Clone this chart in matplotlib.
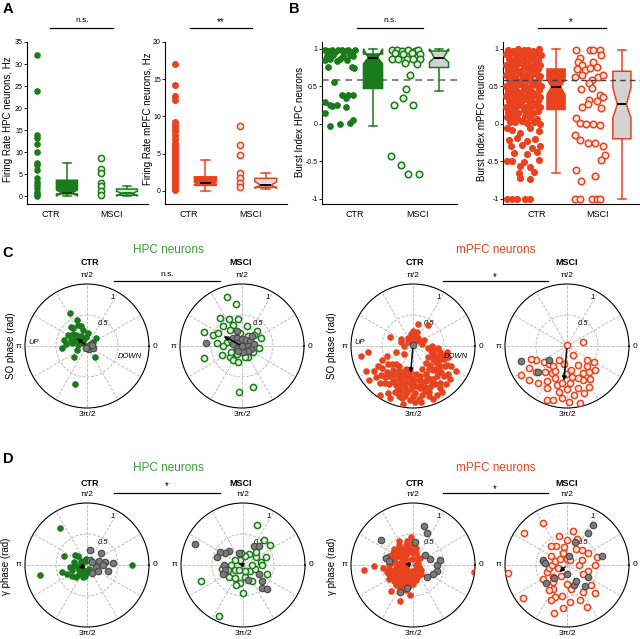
import numpy as np
import matplotlib
matplotlib.use("Agg")
import matplotlib.pyplot as plt
from matplotlib.lines import Line2D

plt.rcParams['font.family'] = ['Liberation Sans', 'DejaVu Sans']

GREEN = '#1b7a1b'
GREEN_LIGHT = '#e3f3dc'
GREEN_TXT = '#3c9a3c'
RED = '#e8431e'
RED_LIGHT = '#fde6de'
GRAY = '#7b7b7b'
GRAY_EDGE = '#474747'

# ---------------- panel A: firing rate (Hz)
hpc_fr_ctr = [32, 23.9, 13.9, 13.3, 11.8, 10.1, 7.5, 7.0, 6.0, 4.0, 3.3, 2.5, 1.9, 0.9, 0.4, 0.1]
hpc_fr_msci = [8.6, 6.2, 5.3, 2.9, 2.2, 1.1, 0.3]
mpfc_fr_ctr = [17.0, 14.2, 12.7, 12.2, 9.2, 8.8, 8.4, 8.0, 7.5, 7.0, 6.4, 6.1, 5.8, 5.5, 5.2,
               4.9, 4.6, 4.3, 4.0, 3.7, 3.4, 3.1, 2.8, 2.5, 2.2, 1.9, 1.6, 1.3, 1.0, 0.7, 0.4, 0.1]
mpfc_fr_msci = [8.7, 6.2, 4.8, 2.4, 1.7, 1.1, 0.5]
# box stats: q1, median, q3, whisker low, whisker high, notch low, notch high
hpc_fr_box_ctr = [0.5, 0.7, 3.6, 0.1, 7.6, 0.0, 1.4]
hpc_fr_box_msci = [0.2, 0.6, 1.6, 0.0, 2.3, 0.0, 1.1]
mpfc_fr_box_ctr = [0.75, 1.05, 1.9, 0.0, 4.2, 0.9, 1.2]
mpfc_fr_box_msci = [0.5, 0.8, 1.7, 0.3, 2.4, 0.35, 1.25]

# ---------------- panel B: burst index (jitter offset, value)
hpc_bi_ctr_x = [-0.45, -0.35, -0.25, -0.15, -0.05, 0.05, 0.15, 0.25, 0.35, 0.45,
                -0.40, -0.20, 0.10, 0.30, 0.40, -0.45, -0.30, -0.10, 0.00, 0.20,
                -0.35, 0.35, 0.43, -0.18, 0.05, 0.25, 0.38, 0.18, -0.45,
                -0.30, -0.23, -0.08, 0.18, -0.45, 0.38, 0.30, 0.00, -0.30]
hpc_bi_ctr = [0.99, 0.97, 0.99, 0.96, 0.98, 0.99, 0.97, 0.99, 0.96, 0.98,
              0.91, 0.92, 0.90, 0.92, 0.91, 0.85, 0.86, 0.84, 0.87, 0.85,
              0.76, 0.76, 0.75, 0.56, 0.39, 0.39, 0.38, 0.35, 0.29,
              0.25, 0.24, 0.25, 0.23, 0.14, 0.05, 0.01, 0.0, -0.03]
hpc_bi_msci_x = [-0.43, -0.28, -0.13, 0.07, 0.27, 0.37, -0.33, -0.08, 0.17, 0.42,
                 -0.43, -0.23, 0.02, 0.22, 0.42, -0.03, 0.32, 0.12, 0.0, -0.08,
                 -0.36, 0.22, -0.45, -0.16, 0.05, 0.40]
hpc_bi_msci = [0.98, 0.98, 0.97, 0.98, 0.97, 0.98, 0.94, 0.93, 0.94, 0.93,
               0.87, 0.86, 0.87, 0.86, 0.87, 0.81, 0.80, 0.65, 0.47, 0.35,
               0.25, 0.25, -0.43, -0.55, -0.67, -0.67]
mpfc_bi_ctr_x = [-0.46, -0.31, -0.14, 0.02, 0.16, 0.31, 0.47,
                 -0.53, -0.37, -0.23, -0.07, 0.09, 0.24, 0.39, 0.53,
                 -0.44, -0.29, -0.16, 0.01, 0.14, 0.32, 0.46,
                 -0.51, -0.38, -0.21, -0.09, 0.07, 0.23, 0.37, 0.52,
                 -0.46, -0.28, -0.13, 0.02, 0.17, 0.29, 0.44,
                 -0.52, -0.36, -0.24, -0.06, 0.09, 0.21, 0.39, 0.51,
                 -0.43, -0.31, -0.14, -0.01, 0.16, 0.31, 0.46,
                 -0.53, -0.39, -0.22, -0.08, 0.07, 0.22, 0.38, 0.54,
                 -0.45, -0.29, -0.16, 0.03, 0.15, 0.28, 0.47,
                 -0.51, -0.37, -0.21, -0.07, 0.08, 0.24, 0.36, 0.52,
                 -0.44, -0.32, -0.13, 0.01, 0.17, 0.33, 0.45,
                 -0.52, -0.38, -0.23, -0.06, 0.09, 0.22, 0.39, 0.51,
                 -0.45, -0.29, -0.15, 0.02, 0.14, 0.31, 0.46,
                 -0.49, -0.35, -0.18, 0.05, 0.21, 0.42,
                 -0.41, -0.24, -0.02, 0.12, 0.34, 0.50,
                 -0.48, -0.33, -0.08, 0.22, 0.47,
                 -0.43, -0.18, 0.12, 0.37,
                 -0.38, -0.03, 0.27, 0.52,
                 -0.28, 0.12, 0.42,
                 -0.48, -0.33, 0.02, 0.47,
                 -0.08, 0.22, -0.13, 0.32, -0.08, 0.22,
                 -0.48, -0.33, -0.18, 0.07, 0.22]
mpfc_bi_ctr = [0.99, 0.97, 1.0, 0.98, 0.99, 0.97, 1.0,
               0.93, 0.94, 0.92, 0.95, 0.93, 0.91, 0.94, 0.92,
               0.87, 0.85, 0.88, 0.86, 0.84, 0.87, 0.85,
               0.79, 0.80, 0.78, 0.81, 0.79, 0.77, 0.80, 0.78,
               0.72, 0.73, 0.71, 0.74, 0.72, 0.70, 0.73,
               0.65, 0.66, 0.64, 0.67, 0.65, 0.63, 0.66, 0.64,
               0.58, 0.59, 0.57, 0.60, 0.58, 0.56, 0.59,
               0.51, 0.52, 0.50, 0.53, 0.51, 0.49, 0.52, 0.50,
               0.44, 0.45, 0.43, 0.46, 0.44, 0.42, 0.45,
               0.37, 0.38, 0.36, 0.39, 0.37, 0.35, 0.38, 0.36,
               0.30, 0.31, 0.29, 0.32, 0.30, 0.28, 0.31,
               0.23, 0.24, 0.22, 0.25, 0.23, 0.21, 0.24, 0.22,
               0.16, 0.17, 0.15, 0.18, 0.16, 0.14, 0.17,
               0.09, 0.10, 0.08, 0.11, 0.09, 0.07,
               0.03, 0.02, 0.04, 0.01, 0.03, 0.0,
               -0.05, -0.08, -0.12, -0.06, -0.10,
               -0.21, -0.19, -0.23, -0.20,
               -0.30, -0.28, -0.32, -0.30,
               -0.39, -0.40, -0.37,
               -0.50, -0.49, -0.51, -0.48,
               -0.57, -0.58, -0.66, -0.64, -0.72, -0.74,
               -1, -1, -1, -1, -1]
mpfc_bi_msci_x = [-0.39, 0.03, 0.13, 0.33, 0.38, -0.27, -0.32, -0.22, 0.13, -0.37,
                  -0.12, 0.03, 0.23, -0.42, -0.22, 0.08, 0.28, 0.43, 0.0, -0.24,
                  0.08, 0.33, 0.43, 0.01, 0.23, 0.38, -0.22, -0.02, -0.39, -0.27,
                  -0.10, 0.13, 0.33, -0.42, -0.27, -0.02, 0.18, 0.43, 0.48, 0.38,
                  -0.40, -0.25, 0.18, -0.42, -0.27, 0.08, 0.23, 0.33]
mpfc_bi_msci = [0.99, 0.99, 0.99, 0.98, 0.92, 0.88, 0.82, 0.78, 0.83, 0.73,
                0.72, 0.74, 0.76, 0.62, 0.65, 0.58, 0.62, 0.65, 0.54, 0.46,
                0.48, 0.39, 0.36, 0.32, 0.30, 0.21, 0.23, 0.27, 0.08, 0.01,
                0.0, 0.0, -0.01, -0.15, -0.21, -0.26, -0.26, -0.30, -0.41, -0.48,
                -0.62, -0.77, -0.70, -1.0, -1.0, -1.0, -1.0, -1.0]
hpc_bi_box_ctr = [0.47, 0.88, 0.93, -0.03, 1.0, 0.80, 1.0]
hpc_bi_box_msci = [0.75, 0.88, 0.97, 0.44, 1.0, 0.82, 1.0]
mpfc_bi_box_ctr = [0.19, 0.49, 0.73, -0.66, 1.0, 0.39, 0.59]
mpfc_bi_box_msci = [-0.20, 0.26, 0.70, -1.0, 0.99, 0.08, 0.48]
burst_threshold = 0.59

# ---------------- panels C and D: phase preference (theta in degrees, vector length)
c_hpc_ctr = [(118, 0.60), (112, 0.37), (106, 0.33), (128, 0.37), (104, 0.27), (85, 0.21), (150, 0.36),
             (134, 0.25), (121, 0.18), (40, 0.20), (165, 0.38), (159, 0.28), (174, 0.34), (185, 0.40),
             (174, 0.15), (146, 0.08), (221, 0.27), (308, 0.22), (252, 0.64), (140, 0.30), (120, 0.12),
             (95, 0.15), (155, 0.22), (130, 0.40), (30, 0.12), (200, 0.18), (170, 0.25), (110, 0.45)]
c_hpc_ctr_ns = [(20, 0.05), (300, 0.06), (340, 0.10), (250, 0.04), (10, 0.08)]
c_hpc_msci = [(107, 0.82), (98, 0.68), (128, 0.58), (116, 0.49), (99, 0.44), (134, 0.45), (113, 0.36),
              (75, 0.33), (159, 0.65), (159, 0.50), (151, 0.44), (126, 0.32), (44, 0.34), (23, 0.33),
              (43, 0.26), (174, 0.41), (165, 0.25), (150, 0.20), (100, 0.22), (352, 0.28), (330, 0.20),
              (300, 0.20), (198, 0.64), (204, 0.36), (222, 0.26), (239, 0.27), (287, 0.18), (255, 0.27),
              (266, 0.75), (285, 0.69), (350, 0.12), (60, 0.18), (180, 0.30), (210, 0.20), (240, 0.15)]
c_hpc_msci_ns = [(176, 0.59), (140, 0.20), (120, 0.15), (150, 0.10), (90, 0.12), (60, 0.12), (30, 0.15),
                 (0, 0.10), (340, 0.15), (320, 0.12), (280, 0.10), (200, 0.08), (170, 0.15), (45, 0.22),
                 (10, 0.20), (110, 0.25), (0, 0.0), (230, 0.10)]
c_mpfc_ctr = [(90, 0.05), (70, 0.10), (110, 0.10), (95, 0.15), (80, 0.18), (100, 0.20), (60, 0.15),
              (120, 0.15), (140, 0.10), (40, 0.12), (90, 0.25), (74, 0.24), (78, 0.37), (55, 0.42),
              (149, 0.22), (158, 0.40), (191, 0.85), (187, 0.73), (30, 0.20), (10, 0.15), (0, 0.30),
              (350, 0.35), (160, 0.20), (200, 0.30), (220, 0.20), (180, 0.15),
              (205, 0.55), (210, 0.65), (212, 0.75), (200, 0.45), (208, 0.85), (215, 0.50),
              (220, 0.45), (225, 0.60), (222, 0.70), (228, 0.80), (218, 0.90), (230, 0.50), (226, 0.40),
              (235, 0.40), (238, 0.55), (240, 0.65), (233, 0.75), (242, 0.85), (236, 0.95), (244, 0.50),
              (232, 0.62), (248, 0.45), (250, 0.55), (252, 0.65), (255, 0.75), (258, 0.85), (246, 0.92),
              (253, 0.38), (257, 0.60), (249, 0.80), (260, 0.95), (262, 0.50), (265, 0.60), (268, 0.70),
              (270, 0.80), (272, 0.90), (264, 0.42), (274, 0.65), (267, 0.88), (263, 0.75), (271, 0.55),
              (277, 0.45), (280, 0.55), (282, 0.65), (285, 0.75), (288, 0.85), (278, 0.92), (290, 0.60),
              (284, 0.50), (281, 0.80), (292, 0.40), (295, 0.50), (298, 0.60), (300, 0.70), (303, 0.80),
              (296, 0.88), (305, 0.45), (293, 0.72), (308, 0.35), (310, 0.50), (313, 0.60), (316, 0.70),
              (318, 0.80), (312, 0.42), (320, 0.55), (322, 0.30), (325, 0.45), (328, 0.60), (332, 0.70),
              (335, 0.50), (338, 0.35), (342, 0.60), (345, 0.30), (330, 0.80), (348, 0.45), (350, 0.55),
              (355, 0.40), (352, 0.25),
              (215, 0.62), (220, 0.78), (228, 0.68), (233, 0.58), (238, 0.72), (243, 0.66), (247, 0.58),
              (251, 0.72), (254, 0.84), (256, 0.50), (259, 0.68), (261, 0.82), (266, 0.52), (269, 0.62),
              (273, 0.76), (276, 0.86), (279, 0.68), (283, 0.58), (286, 0.68), (289, 0.78), (291, 0.92),
              (294, 0.56), (297, 0.68), (301, 0.62), (302, 0.88), (306, 0.74), (309, 0.62), (311, 0.82),
              (314, 0.52), (317, 0.62), (321, 0.72), (324, 0.52), (327, 0.38), (331, 0.62), (334, 0.42),
              (337, 0.55), (340, 0.45), (344, 0.52), (239, 0.45), (246, 0.68)]
c_mpfc_ctr_ns = [(90, 0.02)]
c_mpfc_msci = [(240, 0.50), (230, 0.55), (220, 0.65), (210, 0.70), (205, 0.55), (215, 0.45), (225, 0.40),
               (235, 0.40), (245, 0.45), (250, 0.55), (255, 0.65), (260, 0.75), (265, 0.85), (270, 0.70),
               (275, 0.60), (280, 0.50), (285, 0.70), (290, 0.80), (295, 0.60), (300, 0.50), (305, 0.65),
               (310, 0.55), (315, 0.45), (320, 0.60), (325, 0.40), (330, 0.50), (245, 0.75), (250, 0.92),
               (255, 0.90), (262, 0.60), (268, 0.45), (272, 0.90), (278, 0.80), (283, 0.95), (288, 0.55),
               (298, 0.75), (240, 0.65), (232, 0.75), (222, 0.82), (280, 0.40), (300, 0.35), (260, 0.30),
               (15, 0.27), (304, 0.17), (241, 0.26), (90, 0.02), (200, 0.62), (212, 0.88)]
c_mpfc_msci_ns = [(198, 0.78), (218, 0.37), (222, 0.62)]
d_hpc_ctr = [(126, 0.73), (0, 0.73), (192, 0.78), (195, 0.42), (205, 0.36), (227, 0.26), (159, 0.40),
             (166, 0.22), (134, 0.21), (140, 0.25), (180, 0.20), (190, 0.15), (200, 0.25), (210, 0.15),
             (220, 0.10), (240, 0.15), (250, 0.20), (260, 0.18), (270, 0.12), (280, 0.10), (300, 0.08),
             (170, 0.10), (150, 0.12), (120, 0.08), (230, 0.20), (215, 0.30), (255, 0.10), (185, 0.28),
             (100, 0.10)]
d_hpc_ctr_ns = [(79, 0.24), (20, 0.20), (10, 0.30), (5, 0.42), (345, 0.35), (350, 0.15), (60, 0.10),
                (30, 0.10), (330, 0.20), (300, 0.15), (40, 0.30), (0, 0.25)]
d_hpc_msci = [(71, 0.69), (50, 0.52), (36, 0.54), (201, 0.72), (245, 0.91), (339, 0.42), (30, 0.25),
              (45, 0.30), (60, 0.20), (80, 0.15), (100, 0.20), (120, 0.10), (150, 0.15), (180, 0.20),
              (200, 0.25), (220, 0.30), (240, 0.25), (260, 0.30), (280, 0.20), (300, 0.30), (320, 0.15),
              (340, 0.20), (0, 0.15), (10, 0.30), (20, 0.40), (250, 0.35), (270, 0.45), (290, 0.10),
              (210, 0.15), (190, 0.35), (230, 0.10), (0, 0.30)]
d_hpc_msci_ns = [(156, 0.85), (164, 0.44), (135, 0.33), (145, 0.35), (180, 0.30), (195, 0.30), (205, 0.35),
                 (110, 0.20), (60, 0.35), (50, 0.40), (320, 0.40), (310, 0.48), (315, 0.55), (330, 0.30),
                 (290, 0.25), (150, 0.42)]
d_mpfc_ctr = [(90, 0.35), (100, 0.30), (110, 0.35), (120, 0.30), (130, 0.35), (140, 0.40), (150, 0.38),
              (160, 0.42), (170, 0.40), (180, 0.38), (190, 0.40), (200, 0.42), (210, 0.38), (220, 0.40),
              (230, 0.35), (240, 0.38), (250, 0.32), (260, 0.35), (270, 0.30), (280, 0.25), (90, 0.20),
              (110, 0.22), (130, 0.25), (150, 0.28), (170, 0.30), (190, 0.28), (210, 0.25), (230, 0.22),
              (250, 0.20), (270, 0.18), (100, 0.10), (140, 0.15), (180, 0.18), (220, 0.12), (260, 0.10),
              (300, 0.10), (340, 0.10), (20, 0.08), (60, 0.12), (80, 0.28), (120, 0.45), (165, 0.32),
              (175, 0.22), (195, 0.12), (205, 0.32), (215, 0.18), (235, 0.28), (245, 0.15), (265, 0.25),
              (285, 0.15), (310, 0.20), (330, 0.15), (45, 0.15), (75, 0.20), (95, 0.45), (155, 0.20),
              (185, 0.48), (225, 0.30), (255, 0.42), (0, 0.05), (186, 0.79), (181, 0.63), (353, 0.99),
              (241, 0.43), (265, 0.49), (250, 0.61), (230, 0.55),
              (100, 0.25), (115, 0.28), (125, 0.20), (135, 0.30), (145, 0.22), (155, 0.33), (160, 0.12),
              (170, 0.18), (175, 0.35), (185, 0.22), (195, 0.35), (200, 0.18), (205, 0.22), (215, 0.35),
              (220, 0.25), (225, 0.15), (235, 0.20), (240, 0.30), (255, 0.25), (260, 0.30), (275, 0.22),
              (290, 0.20), (105, 0.40), (165, 0.38), (145, 0.35), (125, 0.40), (195, 0.44), (210, 0.45),
              (230, 0.42), (90, 0.30)]
d_mpfc_ctr_ns = [(74, 0.65), (66, 0.57), (142, 0.66), (84, 0.38), (165, 0.45), (170, 0.40), (40, 0.25),
                 (20, 0.30), (0, 0.38), (345, 0.40), (335, 0.35), (245, 0.48), (255, 0.38), (320, 0.30),
                 (10, 0.45)]
d_mpfc_msci = [(143, 0.87), (188, 0.96), (217, 0.88), (120, 0.79), (105, 0.48), (90, 0.40), (80, 0.55),
               (70, 0.45), (100, 0.30), (110, 0.20), (120, 0.35), (60, 0.30), (45, 0.35), (30, 0.40),
               (15, 0.50), (0, 0.45), (345, 0.35), (330, 0.30), (300, 0.50), (290, 0.60), (280, 0.40),
               (270, 0.30), (260, 0.50), (250, 0.55), (240, 0.45), (230, 0.35), (220, 0.30), (210, 0.45),
               (200, 0.35), (190, 0.30), (180, 0.25), (170, 0.40), (160, 0.20), (150, 0.30), (140, 0.15),
               (130, 0.40), (90, 0.10), (0, 0.20), (315, 0.65), (295, 0.75), (275, 0.60), (265, 0.70),
               (255, 0.80), (245, 0.62), (235, 0.50), (60, 0.10), (200, 0.15), (240, 0.20), (320, 0.50),
               (20, 0.25)]
d_mpfc_msci_ns = [(57, 0.76), (57, 0.62), (14, 0.59), (70, 0.40), (80, 0.15), (168, 0.40), (175, 0.35),
                  (220, 0.45), (225, 0.30), (290, 0.35), (310, 0.45), (300, 0.30), (330, 0.40), (270, 0.15)]
# mean resultant vectors (theta deg, length)
c_means = [(143, 0.25), (152, 0.38), (265, 0.48), (265, 0.61)]
d_means = [(200, 0.19), (160, 0.12), (171, 0.18), (224, 0.21)]

theta_labels = ['0', 'π/2', 'π', '3π/2']

W, H = 640, 639
fig = plt.figure(figsize=(6.4, 6.39), dpi=100)


def frect(l, t, r, b):
    return [l / W, 1 - b / H, (r - l) / W, (b - t) / H]


def ftext(x, y, s, **kw):
    fig.text(x / W, 1 - y / H, s, ha='center', va='center', **kw)


def fline(x1, x2, y):
    fig.add_artist(Line2D([x1 / W, x2 / W], [1 - y / H, 1 - y / H], color='k', lw=0.9))


def box(ax, pos, st, face, edge, medc, width):
    q1, med, q3, lo, hi, cilo, cihi = st
    stats = [dict(med=med, q1=q1, q3=q3, whislo=lo, whishi=hi, cilo=cilo, cihi=cihi, fliers=[])]
    ax.bxp(stats, positions=[pos], widths=width, patch_artist=True, shownotches=True,
           showfliers=False, capwidths=width * 0.4, manage_ticks=False,
           boxprops=dict(facecolor=face, edgecolor=edge, linewidth=1.1),
           whiskerprops=dict(color=edge, linewidth=1.1),
           capprops=dict(color=edge, linewidth=1.1),
           medianprops=dict(color=medc, linewidth=1.4))


def strip_axes(px, ylim, yticks, yticklabels, xlim, xticks):
    ax = fig.add_axes(frect(*px))
    ax.spines[['top', 'right']].set_visible(False)
    ax.spines[['left', 'bottom']].set_linewidth(0.8)
    ax.set_ylim(*ylim)
    ax.set_xlim(*xlim)
    ax.set_yticks(yticks)
    ax.set_yticklabels(yticklabels)
    ax.set_xticks(xticks)
    ax.set_xticklabels(['CTR', 'MSCI'])
    ax.tick_params(axis='y', labelsize=5, length=2, width=0.6, pad=1)
    ax.tick_params(axis='x', labelsize=6.5, length=0, pad=4)
    return ax


# ---- A
ax = strip_axes((27, 42, 148, 204), (-1.8, 35), range(0, 36, 5), [str(v) for v in range(0, 36, 5)],
                (0.67, 4.7), [1.45, 3.5])
ax.scatter([1] * len(hpc_fr_ctr), hpc_fr_ctr, s=14, color=GREEN, zorder=3, clip_on=False)
ax.scatter([3.15] * len(hpc_fr_msci), hpc_fr_msci, s=20, facecolor=GREEN_LIGHT, edgecolor=GREEN, lw=1.1, zorder=3)
box(ax, 2, hpc_fr_box_ctr, GREEN, GREEN, '#0a4a0a', 0.7)
box(ax, 4, hpc_fr_box_msci, '#d3e8cf', GREEN, GREEN, 0.7)

ax = strip_axes((165, 42, 287, 204), (-1.75, 20), range(0, 21, 5), [str(v) for v in range(0, 21, 5)],
                (0.67, 4.7), [1.45, 3.5])
ax.scatter([1] * len(mpfc_fr_ctr), mpfc_fr_ctr, s=16, color=RED, zorder=3)
ax.scatter([3.15] * len(mpfc_fr_msci), mpfc_fr_msci, s=20, facecolor=RED_LIGHT, edgecolor=RED, lw=1.1, zorder=3)
box(ax, 2, mpfc_fr_box_ctr, RED, RED, 'k', 0.72)
box(ax, 4, mpfc_fr_box_msci, '#e2dcdc', RED, 'k', 0.72)

# ---- B
bi_ticks = [-1, -0.5, 0, 0.5, 1]
bi_labels = ['-1', '-0.5', '0', '0.5', '1']
ax = strip_axes((322, 42, 457, 204), (-1.07, 1.09), bi_ticks, bi_labels, (0.455, 4.545), [1.45, 3.35])
ax.axhline(burst_threshold, color='#707070', ls=(0, (4, 3)), lw=1.2, zorder=1)
ax.scatter(1 + np.array(hpc_bi_ctr_x), hpc_bi_ctr, s=15, color=GREEN, zorder=3)
ax.scatter(3 + np.array(hpc_bi_msci_x), hpc_bi_msci, s=22, facecolor=GREEN_LIGHT, edgecolor=GREEN, lw=1.1, zorder=3)
box(ax, 2, hpc_bi_box_ctr, GREEN, GREEN, 'k', 0.58)
box(ax, 4, hpc_bi_box_msci, '#d3d3d3', GREEN, 'k', 0.58)

ax = strip_axes((503, 42, 640, 204), (-1.07, 1.09), bi_ticks, bi_labels, (0.39, 4.55), [1.42, 3.27])
ax.axhline(burst_threshold, color='#404040', ls=(0, (4, 3)), lw=1.0, zorder=4)
ax.scatter(1 + np.array(mpfc_bi_ctr_x), mpfc_bi_ctr, s=17, color=RED, zorder=3)
ax.scatter(3 + np.array(mpfc_bi_msci_x), mpfc_bi_msci, s=22, facecolor=RED_LIGHT, edgecolor=RED, lw=1.1, zorder=3)
box(ax, 2, mpfc_bi_box_ctr, RED, RED, 'k', 0.55)
box(ax, 4, mpfc_bi_box_msci, '#d3d3d3', RED, 'k', 0.55)

ftext(8, 119, 'Firing Rate HPC neurons, Hz', fontsize=7, rotation=90)
ftext(148, 119, 'Firing Rate mPFC neurons, Hz', fontsize=7, rotation=90)
ftext(300, 122, 'Burst Index HPC neurons', fontsize=7, rotation=90)
ftext(482, 122, 'Burst Index mPFC neurons', fontsize=7, rotation=90)
fline(50, 113, 28)
ftext(82, 21, 'n.s.', fontsize=6)
fline(190, 252, 28)
ftext(221, 22, '**', fontsize=7)
fline(357, 423, 28)
ftext(390, 21, 'n.s.', fontsize=6)
fline(538, 606, 28)
ftext(571, 22, '*', fontsize=7)


# ---- C and D polar plots
def polar_axes(cx, cy, pts, ns_pts, mean, hollow, color, light, updown=False):
    R = 62
    ax = fig.add_axes(frect(cx - R, cy - R, cx + R, cy + R), projection='polar')
    ax.set_ylim(0, 1)
    ax.set_thetagrids(np.arange(0, 360, 30), [''] * 12)
    ax.set_yticks([0.5])
    ax.set_yticklabels([])
    ax.grid(True, linestyle='--', color='#b5b5b5', linewidth=0.6)
    ax.spines['polar'].set_linewidth(0.8)
    for ang, rr, lab in zip([0, 90, 180, 270], [1.1, 1.13, 1.1, 1.1], theta_labels):
        ax.text(np.deg2rad(ang), rr, lab, fontsize=6, ha='center', va='center', clip_on=False)
    ax.text(np.deg2rad(55), 0.45, '0.5', fontsize=5.5, style='italic', ha='center', va='center')
    ax.text(np.deg2rad(62), 0.88, '1', fontsize=5.5, style='italic', ha='center', va='center')
    th, r = np.array(pts).T
    if hollow:
        ax.scatter(np.deg2rad(th), r, s=20, facecolor=light, edgecolor=color, lw=1.1, zorder=3)
    else:
        ax.scatter(np.deg2rad(th), r, s=14, color=color, zorder=3)
    th, r = np.array(ns_pts).T
    ax.scatter(np.deg2rad(th), r, s=22, facecolor=GRAY, edgecolor=GRAY_EDGE, lw=0.8, zorder=4)
    ax.annotate('', xy=(np.deg2rad(mean[0]), mean[1]), xytext=(0, 0),
                arrowprops=dict(arrowstyle='-|>', color='k', lw=1.1, mutation_scale=6), zorder=5)
    if updown:
        ax.text(np.deg2rad(176), 0.86, 'UP', fontsize=5.5, style='italic', ha='center', va='center')
        ax.text(np.deg2rad(346), 0.72, 'DOWN', fontsize=5.5, style='italic', ha='center', va='center')
    return ax


polar_axes(87, 346, c_hpc_ctr, c_hpc_ctr_ns, c_means[0], False, GREEN, GREEN_LIGHT, True)
polar_axes(242, 346, c_hpc_msci, c_hpc_msci_ns, c_means[1], True, GREEN, GREEN_LIGHT)
polar_axes(413, 346, c_mpfc_ctr, c_mpfc_ctr_ns, c_means[2], False, RED, RED_LIGHT, True)
polar_axes(567, 346, c_mpfc_msci, c_mpfc_msci_ns, c_means[3], True, RED, RED_LIGHT)
polar_axes(87, 565, d_hpc_ctr, d_hpc_ctr_ns, d_means[0], False, GREEN, GREEN_LIGHT)
polar_axes(243, 565, d_hpc_msci, d_hpc_msci_ns, d_means[1], True, GREEN, GREEN_LIGHT)
polar_axes(413, 565, d_mpfc_ctr, d_mpfc_ctr_ns, d_means[2], False, RED, RED_LIGHT)
polar_axes(567, 565, d_mpfc_msci, d_mpfc_msci_ns, d_means[3], True, RED, RED_LIGHT)

for y_grp, y_ttl, y_sig, marks in [(250, 263, 281, ('n.s.', '*')), (468, 483, 493, ('*', '*'))]:
    ftext(168, y_grp, 'HPC neurons', fontsize=8.5, color=GREEN_TXT)
    ftext(496, y_grp, 'mPFC neurons', fontsize=8.5, color=RED)
    for xc, t in [(90, 'CTR'), (241, 'MSCI'), (415, 'CTR'), (567, 'MSCI')]:
        ftext(xc, y_ttl, t, fontsize=6.5, fontweight='bold')
    fline(114, 220, y_sig)
    fline(443, 548, y_sig)
    ftext(167, y_sig - 7, marks[0], fontsize=6 if marks[0] == 'n.s.' else 7)
    ftext(495, y_sig - 4, marks[1], fontsize=7)

ftext(11, 346, 'SO phase (rad)', fontsize=7, rotation=90)
ftext(332, 346, 'SO phase (rad)', fontsize=7, rotation=90)
ftext(6, 566, 'γ phase (rad)', fontsize=7, rotation=90)
ftext(332, 566, 'γ phase (rad)', fontsize=7, rotation=90)

for x, y, s in [(8, 9, 'A'), (294, 9, 'B'), (8, 253, 'C'), (8, 459, 'D')]:
    ftext(x, y, s, fontsize=10.5, fontweight='bold')

fig.savefig('out.png', dpi=100)
